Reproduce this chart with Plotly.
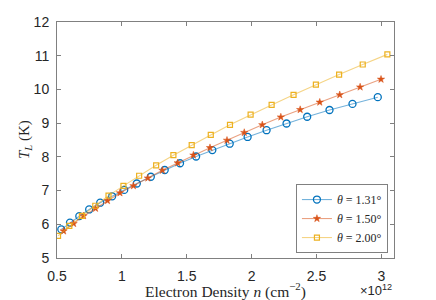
import plotly.graph_objects as go

# Electron density (units of 1e12 cm^-2) and T_L (K)
n_131 = [0.533, 0.600, 0.672, 0.748, 0.833, 0.925, 1.018, 1.115, 1.223, 1.330, 1.448,
         1.572, 1.697, 1.831, 1.969, 2.115, 2.269, 2.428, 2.600, 2.777, 2.972]
T_131 = [5.85, 6.05, 6.24, 6.44, 6.64, 6.83, 7.02, 7.21, 7.41, 7.61, 7.81,
         8.01, 8.20, 8.39, 8.59, 8.79, 8.99, 9.19, 9.39, 9.57, 9.77]

n_150 = [0.551, 0.628, 0.705, 0.797, 0.889, 0.985, 1.089, 1.200, 1.312, 1.430, 1.551,
         1.679, 1.810, 1.943, 2.082, 2.225, 2.374, 2.525, 2.679, 2.836, 2.997]
T_150 = [5.80, 6.02, 6.25, 6.47, 6.70, 6.93, 7.14, 7.37, 7.60, 7.82, 8.05,
         8.27, 8.49, 8.72, 8.95, 9.18, 9.40, 9.62, 9.84, 10.07, 10.30]

n_200 = [0.508, 0.595, 0.692, 0.795, 0.897, 1.012, 1.133, 1.264, 1.397, 1.538, 1.685,
         1.833, 1.992, 2.154, 2.323, 2.495, 2.674, 2.856, 3.046]
T_200 = [5.655, 5.95, 6.25, 6.55, 6.85, 7.14, 7.44, 7.75, 8.05, 8.35, 8.65,
         8.95, 9.25, 9.54, 9.84, 10.14, 10.44, 10.74, 11.04]

labels = ["<i>θ</i> = 1.31°", "<i>θ</i> = 1.50°", "<i>θ</i> = 2.00°"]
x_ticks = [0.5, 1, 1.5, 2, 2.5, 3]
x_ticktext = ["0.5", "1", "1.5", "2", "2.5", "3"]
y_ticks = [5, 6, 7, 8, 9, 10, 11, 12]
x_title = "Electron Density <i>n</i> (cm<sup>−2</sup>)"
y_title = "<i>T<sub>L</sub></i> (K)"

fig = go.Figure()
fig.add_trace(go.Scatter(
    x=n_131, y=T_131, mode="lines+markers", name=labels[0],
    line=dict(color="rgba(0,114,189,0.55)", width=1.1),
    marker=dict(symbol="circle-open", size=7, color="#0072BD", line=dict(width=1.3))))
fig.add_trace(go.Scatter(
    x=n_150, y=T_150, mode="lines+markers", name=labels[1],
    line=dict(color="rgba(217,83,25,0.55)", width=1.1),
    marker=dict(symbol="star", size=5.5, color="#D95319", line=dict(width=0.5, color="#D95319"))))
fig.add_trace(go.Scatter(
    x=n_200, y=T_200, mode="lines+markers", name=labels[2],
    line=dict(color="rgba(237,177,32,0.55)", width=1.1),
    marker=dict(symbol="square-open", size=5, color="#EDB120", line=dict(width=1.2))))

axis_common = dict(
    showline=True, linecolor="#808080", linewidth=1, mirror="ticks",
    ticks="inside", ticklen=4, tickcolor="#808080", tickwidth=1,
    showgrid=False, zeroline=False, automargin=False,
    tickfont=dict(family="Liberation Sans, Arial", size=14, color="#262626"),
)

serif = "Liberation Serif, Times New Roman, serif"

fig.update_layout(
    width=436, height=300,
    margin=dict(l=57, r=42, t=22, b=42),
    paper_bgcolor="white", plot_bgcolor="white",
    xaxis=dict(range=[0.5, 3.097], tickvals=x_ticks, ticktext=x_ticktext,
               ticklabelstandoff=5, **axis_common),
    yaxis=dict(range=[5, 12], tickvals=y_ticks, ticklabelstandoff=4, **axis_common),
    legend=dict(x=0.982, y=0.021, xanchor="right", yanchor="bottom",
                bgcolor="white", bordercolor="#808080", borderwidth=1,
                font=dict(family=serif, size=12, color="#262626"),
                tracegroupgap=0, itemwidth=30),
    showlegend=True,
)

fig.add_annotation(
    x=0.5, y=0, xref="paper", yref="paper", xanchor="center", yanchor="top",
    yshift=-20, text=x_title, showarrow=False,
    font=dict(family=serif, size=15.5, color="#262626"))
fig.add_annotation(
    x=0, y=0.5, xref="paper", yref="paper", xanchor="right", yanchor="middle",
    xshift=-21, textangle=-90, text=y_title, showarrow=False,
    font=dict(family=serif, size=15, color="#262626"))
fig.add_annotation(
    x=1.0, y=0, xref="paper", yref="paper", xanchor="right", yanchor="top",
    yshift=-22, text="×10<sup>12</sup>", showarrow=False,
    font=dict(family="Liberation Sans, Arial", size=13, color="#262626"))

fig.write_html("out.html", config={"displayModeBar": False},
               post_script="document.body.style.margin='0';")
